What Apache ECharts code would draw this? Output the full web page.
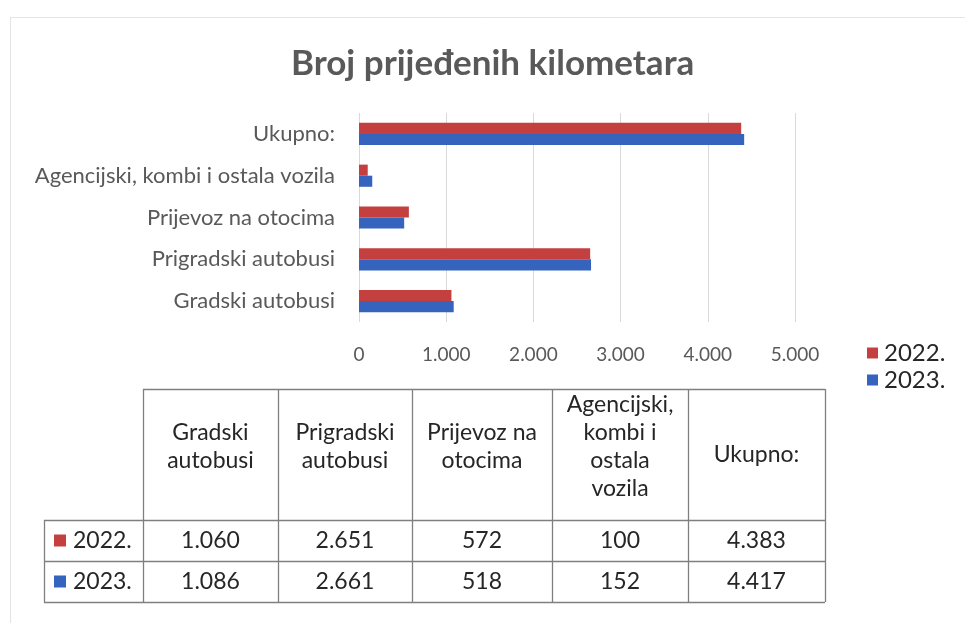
<!DOCTYPE html>
<html>
<head>
<meta charset="utf-8">
<script src="https://cdn.jsdelivr.net/npm/echarts@6/dist/echarts.min.js"></script>
<style>html,body{margin:0;padding:0;background:#fff}#c{width:965px;height:623px}</style>
</head>
<body>
<div id="c"></div>
<script>
// ---- data ----
var categories = ['Gradski autobusi', 'Prigradski autobusi', 'Prijevoz na otocima', 'Agencijski, kombi i ostala vozila', 'Ukupno:'];
var tableHeaders = ['Gradski\nautobusi', 'Prigradski\nautobusi', 'Prijevoz na\notocima', 'Agencijski,\nkombi i\nostala\nvozila', 'Ukupno:'];
var seriesNames = ['2022.', '2023.'];
var values2022 = [1060, 2651, 572, 100, 4383];
var values2023 = [1086, 2661, 518, 152, 4417];
var xTicks = [0, 1000, 2000, 3000, 4000, 5000];
var titleText = 'Broj prijeđenih kilometara';

// ---- styling ----
var FONT = 'Lato, "Open Sans", sans-serif';
var RED = '#C4403F', BLUE = '#3563BE';
var colors = [RED, BLUE];
var valuesBySeries = [values2022, values2023];

function fmt(v) { return String(v).replace(/\B(?=(\d{3})+(?!\d))/g, '.'); }

// table layout
var colX = [143, 278, 412, 552, 688, 825];
var rowHeadX = 44;
var rowY = [389, 520, 561, 602];
var lineCol = '#7f7f7f';

var graphics = [];
// frame
graphics.push({type:'line', shape:{x1:10,y1:17.5,x2:965,y2:17.5}, style:{stroke:'#e4e4e4', lineWidth:1}});
graphics.push({type:'line', shape:{x1:10.5,y1:17,x2:10.5,y2:623}, style:{stroke:'#e4e4e4', lineWidth:1}});

// table grid lines
for (var i = 0; i < colX.length; i++) {
  graphics.push({type:'line', shape:{x1:colX[i]+0.5,y1:rowY[0],x2:colX[i]+0.5,y2:rowY[3]}, style:{stroke:lineCol,lineWidth:1.3}});
}
graphics.push({type:'line', shape:{x1:rowHeadX+0.5,y1:rowY[1],x2:rowHeadX+0.5,y2:rowY[3]}, style:{stroke:lineCol,lineWidth:1.3}});
graphics.push({type:'line', shape:{x1:colX[0],y1:rowY[0]+0.5,x2:colX[5],y2:rowY[0]+0.5}, style:{stroke:lineCol,lineWidth:1.3}});
for (var r = 1; r < rowY.length; r++) {
  graphics.push({type:'line', shape:{x1:rowHeadX,y1:rowY[r]+0.5,x2:colX[5],y2:rowY[r]+0.5}, style:{stroke:lineCol,lineWidth:1.3}});
}
// header texts
for (var c = 0; c < tableHeaders.length; c++) {
  var single = tableHeaders[c].indexOf('\n') < 0;
  graphics.push({type:'text', x:(colX[c]+colX[c+1])/2, y: single ? 455 : 447,
    style:{text:tableHeaders[c], fill:'#262626', font:'23px ' + FONT, textAlign:'center', textVerticalAlign:'middle', lineHeight:28}});
}
// rows
for (var s = 0; s < seriesNames.length; s++) {
  var cy = (rowY[s+1] + rowY[s+2]) / 2;
  graphics.push({type:'rect', shape:{x:54, y:cy-6, width:12, height:12}, style:{fill:colors[s]}});
  graphics.push({type:'text', x:73, y:cy, style:{text:seriesNames[s], fill:'#262626', font:'23px ' + FONT, textAlign:'left', textVerticalAlign:'middle'}});
  for (var c2 = 0; c2 < valuesBySeries[s].length; c2++) {
    graphics.push({type:'text', x:(colX[c2]+colX[c2+1])/2, y:cy,
      style:{text:fmt(valuesBySeries[s][c2]), fill:'#262626', font:'23px ' + FONT, textAlign:'center', textVerticalAlign:'middle'}});
  }
}

var chart = echarts.init(document.getElementById('c'), null, {renderer:'canvas'});
chart.setOption({
  animation: false,
  backgroundColor: '#fff',
  title: {
    text: titleText, left: 286, top: 41,
    textStyle: {fontFamily: FONT, fontSize: 35, fontWeight: 'bold', color: '#595959'}
  },
  legend: {
    data: seriesNames, orient: 'vertical', left: 862, top: 336,
    itemWidth: 11, itemHeight: 11, itemGap: 3, icon: 'rect',
    textStyle: {fontFamily: FONT, fontSize: 24, color: '#262626', padding:[0,0,0,1]}
  },
  grid: {left: 359, right: 170, top: 113, bottom: 301, containLabel: false},
  xAxis: {
    type: 'value', min: xTicks[0], max: xTicks[xTicks.length-1], interval: xTicks[1]-xTicks[0],
    axisLine: {show: false}, axisTick: {show: false},
    splitLine: {lineStyle: {color: '#d9d9d9'}},
    axisLabel: {margin: 23, fontFamily: FONT, fontSize: 19, color: '#595959', formatter: function(v){return fmt(v);}}
  },
  yAxis: {
    type: 'category', data: categories,
    axisLine: {show: false}, axisTick: {show: false},
    axisLabel: {margin: 24, fontFamily: FONT, fontSize: 22, color: '#595959'}
  },
  series: [
    {name: seriesNames[0], type: 'bar', data: values2022, itemStyle: {color: RED}, barGap: '0%', barCategoryGap: '47%'},
    {name: seriesNames[1], type: 'bar', data: values2023, itemStyle: {color: BLUE}, barGap: '0%', barCategoryGap: '47%'}
  ],
  graphic: graphics
});
</script>
</body>
</html>
